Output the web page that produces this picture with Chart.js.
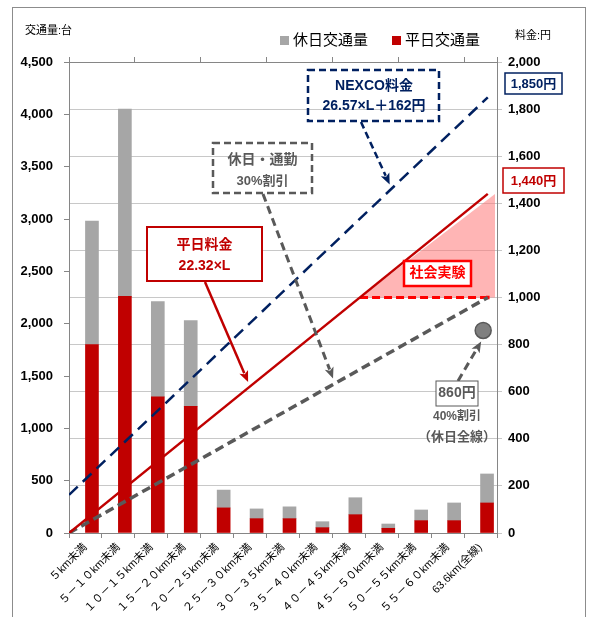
<!DOCTYPE html>
<html lang="ja">
<head>
  <meta charset="UTF-8" />
  <title>距離帯別交通量と料金</title>
  <script src="https://cdn.jsdelivr.net/npm/chart.js"></script>
  <style>
    body { margin: 0; background: #fff; }
    #wrap { width: 589px; height: 617px; position: relative; }
  </style>
</head>
<body>
  <div id="wrap"><canvas id="fareChart"></canvas></div>

  <script>
    // 距離帯（km）
    const CATEGORIES = [
      "５km未満", "５－１０km未満", "１０－１５km未満", "１５－２０km未満",
      "２０－２５km未満", "２５－３０km未満", "３０－３５km未満", "３５－４０km未満",
      "４０－４５km未満", "４５－５０km未満", "５０－５５km未満", "５５－６０km未満",
      "63.6km(全線)"
    ];
    // 交通量（台）
    const WEEKDAY_TRAFFIC = [1800, 2260, 1300, 1210, 240, 137, 137, 51, 175, 45, 118, 118, 287];
    const HOLIDAY_TRAFFIC = [1180, 1790, 910, 820, 170, 93, 113, 57, 162, 41, 102, 169, 277];

    // 料金線（距離 km → 円）
    const FARE_KM = [0, 63.6];
    const NEXCO_FARE = [162, 1850];
    const WEEKDAY_FARE = [0, 1440];
    const HOLIDAY_FARE = [0, 1000];
    // 社会実験の上限
    const CAP_KM = [44.2, 63.6];
    const CAP_FARE = [1000, 1000];
    const SHADE_KM = [44.2, 64.7];
    const SHADE_FARE = [1000, 1440];
    // 休日全線
    const HOLIDAY_ALL_KM = [62.9];
    const HOLIDAY_ALL_FARE = [860];

    const NAVY = "#002060";
    const RED = "#c00000";
    const BRIGHT_RED = "#ff0000";
    const GRAY = "#a6a6a6";
    const DARK_GRAY = "#595959";
    const AXIS = "#868686";
    const FONT = "'Liberation Sans', 'Noto Sans CJK JP', sans-serif";

    const pts = (xs, ys) => xs.map((x, i) => ({ x: x, y: ys[i] }));

    function arrow(ctx, x1, y1, x2, y2, color, width, dash) {
      const ang = Math.atan2(y2 - y1, x2 - x1);
      const head = 12;
      ctx.save();
      ctx.strokeStyle = color;
      ctx.fillStyle = color;
      ctx.lineWidth = width;
      ctx.setLineDash(dash || []);
      ctx.beginPath();
      ctx.moveTo(x1, y1);
      ctx.lineTo(x2 - Math.cos(ang) * head * 0.8, y2 - Math.sin(ang) * head * 0.8);
      ctx.stroke();
      ctx.setLineDash([]);
      ctx.beginPath();
      ctx.moveTo(x2, y2);
      ctx.lineTo(x2 - head * Math.cos(ang - 0.4), y2 - head * Math.sin(ang - 0.4));
      ctx.lineTo(x2 - head * 0.7 * Math.cos(ang), y2 - head * 0.7 * Math.sin(ang));
      ctx.lineTo(x2 - head * Math.cos(ang + 0.4), y2 - head * Math.sin(ang + 0.4));
      ctx.closePath();
      ctx.fill();
      ctx.restore();
    }

    function box(ctx, x, y, w, h, color, width, dash, fill) {
      ctx.save();
      if (fill) { ctx.fillStyle = fill; ctx.fillRect(x, y, w, h); }
      ctx.strokeStyle = color;
      ctx.lineWidth = width;
      ctx.setLineDash(dash || []);
      ctx.strokeRect(x, y, w, h);
      ctx.restore();
    }

    function text(ctx, str, x, y, color, size, bold) {
      ctx.save();
      ctx.fillStyle = color;
      ctx.font = (bold ? "bold " : "") + size + "px " + FONT;
      ctx.textAlign = "center";
      ctx.textBaseline = "middle";
      ctx.fillText(str, x, y);
      ctx.restore();
    }

    // 料金線上の点（円 → 画面座標）
    function onLine(chart, ys, km) {
      const yen = ys[0] + (ys[1] - ys[0]) * (km - FARE_KM[0]) / (FARE_KM[1] - FARE_KM[0]);
      return { x: chart.scales.x2.getPixelForValue(km), y: chart.scales.y2.getPixelForValue(yen) };
    }

    const decorations = {
      id: "decorations",
      afterDraw(chart) {
        const ctx = chart.ctx;

        // 外枠
        ctx.save();
        ctx.strokeStyle = "#8c8c8c";
        ctx.lineWidth = 1;
        ctx.strokeRect(12.5, 7.5, 573, 640);
        ctx.restore();

        // 軸タイトル
        ctx.save();
        ctx.fillStyle = "#000";
        ctx.font = "11px " + FONT;
        ctx.textBaseline = "middle";
        ctx.fillText("交通量:台", 25, 31);
        ctx.fillText("料金:円", 515, 36);

        // 凡例
        ctx.font = "15px " + FONT;
        ctx.fillStyle = GRAY;
        ctx.fillRect(280, 36, 9, 9);
        ctx.fillStyle = "#000";
        ctx.fillText("休日交通量", 293, 41);
        ctx.fillStyle = RED;
        ctx.fillRect(392, 36, 9, 9);
        ctx.fillStyle = "#000";
        ctx.fillText("平日交通量", 405, 41);
        ctx.restore();

        // NEXCO料金
        box(ctx, 308, 70, 131, 51, NAVY, 2.5, [7, 4]);
        text(ctx, "NEXCO料金", 374, 86, NAVY, 14, true);
        text(ctx, "26.57×L＋162円", 374, 106, NAVY, 14, true);
        let tip = onLine(chart, NEXCO_FARE, 48.7);
        arrow(ctx, 361, 122, tip.x, tip.y - 6, NAVY, 2.5, [7, 4]);

        box(ctx, 505, 73, 57, 21, NAVY, 1.5);
        text(ctx, "1,850円", 533.5, 84, NAVY, 13, true);
        box(ctx, 503, 168, 61, 25, RED, 1.5);
        text(ctx, "1,440円", 533.5, 181, RED, 13, true);

        // 休日・通勤
        box(ctx, 213, 143, 99, 50, DARK_GRAY, 2.5, [7, 4]);
        text(ctx, "休日・通勤", 262.5, 160, DARK_GRAY, 14, true);
        text(ctx, "30%割引", 262.5, 181, DARK_GRAY, 13, true);
        tip = onLine(chart, HOLIDAY_FARE, 40.1);
        arrow(ctx, 263, 194, tip.x, tip.y - 6, DARK_GRAY, 3, [8, 5]);

        // 平日料金
        box(ctx, 147, 227, 115, 54, RED, 2, [], "#fff");
        text(ctx, "平日料金", 204.5, 245, RED, 14, true);
        text(ctx, "22.32×L", 204.5, 266, RED, 14, true);
        tip = onLine(chart, WEEKDAY_FARE, 27.2);
        arrow(ctx, 205, 282, tip.x, tip.y - 6, RED, 2.5);

        // 社会実験
        box(ctx, 404, 261, 67, 25, BRIGHT_RED, 2.5, [], "#fff");
        text(ctx, "社会実験", 437.5, 273.5, BRIGHT_RED, 14, true);

        // 休日全線
        const c = chart.getDatasetMeta(5).data[0];
        arrow(ctx, 458, 381, c.x - 2, c.y + 11, DARK_GRAY, 3, [8, 5]);
        box(ctx, 436, 381, 42, 25, DARK_GRAY, 1, [], "#fff");
        text(ctx, "860円", 457, 393.5, DARK_GRAY, 14, true);
        text(ctx, "40%割引", 457, 417, DARK_GRAY, 12, true);
        text(ctx, "（休日全線）", 457, 437, DARK_GRAY, 13, true);
      }
    };

    const tickFont = { family: FONT, size: 13, weight: "bold" };

    new Chart(document.getElementById("fareChart"), {
      type: "bar",
      data: {
        labels: CATEGORIES,
        datasets: [
          {
            type: "line", label: "NEXCO料金", data: pts(FARE_KM, NEXCO_FARE),
            xAxisID: "x2", yAxisID: "y2", borderColor: NAVY, borderWidth: 2.5,
            borderDash: [12, 7], pointRadius: 0, order: 1
          },
          {
            type: "line", label: "平日料金", data: pts(FARE_KM, WEEKDAY_FARE),
            xAxisID: "x2", yAxisID: "y2", borderColor: RED, borderWidth: 2.5,
            pointRadius: 0, order: 1
          },
          {
            type: "line", label: "休日・通勤", data: pts(FARE_KM, HOLIDAY_FARE),
            xAxisID: "x2", yAxisID: "y2", borderColor: DARK_GRAY, borderWidth: 3.5,
            borderDash: [9, 5], pointRadius: 0, order: 1
          },
          {
            type: "line", label: "社会実験上限", data: pts(CAP_KM, CAP_FARE),
            xAxisID: "x2", yAxisID: "y2", borderColor: BRIGHT_RED, borderWidth: 3,
            borderDash: [8, 4], pointRadius: [0, 2.5], pointStyle: "rect",
            pointBackgroundColor: BRIGHT_RED, pointBorderWidth: 0, order: 1
          },
          {
            type: "line", label: "社会実験", data: pts(SHADE_KM, SHADE_FARE),
            xAxisID: "x2", yAxisID: "y2", borderWidth: 0, pointRadius: 0,
            fill: { value: 1000 }, backgroundColor: "rgba(255, 120, 120, 0.55)", order: 4
          },
          {
            type: "line", label: "休日全線", data: pts(HOLIDAY_ALL_KM, HOLIDAY_ALL_FARE),
            xAxisID: "x2", yAxisID: "y2", showLine: false, pointRadius: 8,
            pointBackgroundColor: "#7f7f7f", pointBorderColor: DARK_GRAY, pointBorderWidth: 1.5,
            order: 1
          },
          {
            label: "平日交通量", data: WEEKDAY_TRAFFIC, backgroundColor: RED,
            xAxisID: "x", yAxisID: "y", barThickness: 13, order: 2
          },
          {
            label: "休日交通量", data: HOLIDAY_TRAFFIC, backgroundColor: GRAY,
            xAxisID: "x", yAxisID: "y", barThickness: 13, order: 3
          }
        ]
      },
      options: {
        responsive: true,
        maintainAspectRatio: false,
        animation: false,
        layout: { padding: 0 },
        plugins: { legend: { display: false }, tooltip: { enabled: false } },
        scales: {
          x: {
            type: "category", position: "bottom", stacked: true, offset: true,
            grid: { offset: true, drawOnChartArea: false, tickLength: 5, color: AXIS },
            border: { color: AXIS },
            ticks: {
              autoSkip: false, minRotation: 45, maxRotation: 45, padding: 3,
              color: "#000", font: { family: FONT, size: 11 }
            },
            afterFit: s => { s.height = 84; }
          },
          x2: {
            type: "linear", position: "top", min: 0, max: 65, offset: false,
            grid: { offset: false, drawOnChartArea: false, tickLength: 5, color: AXIS },
            border: { color: AXIS },
            ticks: { stepSize: 10, display: false },
            afterFit: s => { s.height = 62; }
          },
          y: {
            position: "left", stacked: true, min: 0, max: 4500,
            grid: { drawOnChartArea: false, tickLength: 5, color: AXIS },
            border: { color: AXIS },
            ticks: { stepSize: 500, padding: 11, color: "#000", font: tickFont },
            afterFit: s => { s.width = 69; }
          },
          y2: {
            position: "right", min: 0, max: 2000,
            grid: { color: "#c8c8c8", tickLength: 5 },
            border: { color: AXIS },
            ticks: { stepSize: 200, padding: 6, color: "#000", font: tickFont },
            afterFit: s => { s.width = 92; }
          }
        }
      },
      plugins: [decorations]
    });
  </script>
</body>
</html>
